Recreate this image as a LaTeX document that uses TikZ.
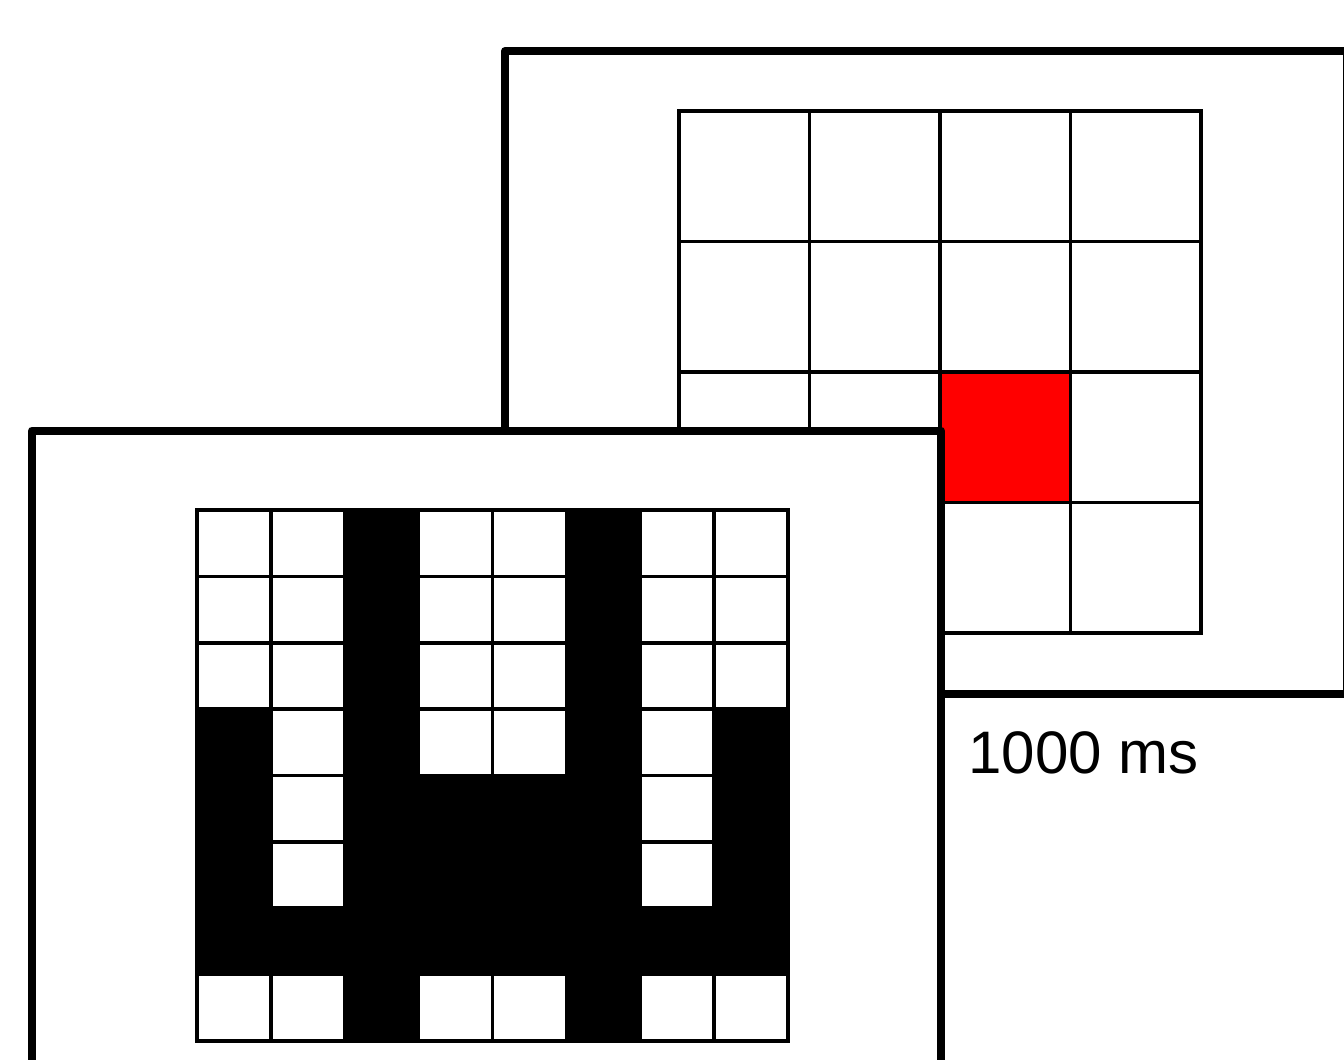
\documentclass[tikz,border=0pt]{standalone}
\usepackage{fontspec}
\setmainfont{Liberation Sans}
\begin{document}
\begin{tikzpicture}[x=0.5pt,y=-0.5pt,
  frame/.style={line width=4pt, line join=round, fill=white, draw=black},
  cell/.style={line width=1.85pt, line cap=rect, draw=black},
  blk/.style={fill=black}]
\useasboundingbox (0,0) rectangle (1344,1060);
\clip (0,0) rectangle (1344,1060);
\fill[white] (0,0) rectangle (1344,1060);
% back screen
\draw[frame] (505,51) rectangle (1347,694);
\fill[red] (940,372) rectangle (1070.5,502.5);
\foreach \i in {0,...,4} {
  \draw[cell] ({679+130.5*\i},111) -- ({679+130.5*\i},633);
  \draw[cell] (679,{111+130.5*\i}) -- (1201,{111+130.5*\i});
}
\node[anchor=base west, inner sep=0, font=\fontsize{30}{36}\selectfont] (label) at (968,773) {1000 ms};
% front screen
\draw[frame] (32,430.5) rectangle (941,1130);
\def\cw{73.875}
\def\ch{66.375}
\def\gx{197}
\def\gy{510}
\fill[blk] ({\gx+2*\cw},{\gy}) rectangle ({\gx+3*\cw},{\gy+8*\ch});
\fill[blk] ({\gx+5*\cw},{\gy}) rectangle ({\gx+6*\cw},{\gy+8*\ch});
\fill[blk] ({\gx},{\gy+6*\ch}) rectangle ({\gx+8*\cw},{\gy+7*\ch});
\fill[blk] ({\gx},{\gy+3*\ch}) rectangle ({\gx+\cw},{\gy+6*\ch});
\fill[blk] ({\gx+7*\cw},{\gy+3*\ch}) rectangle ({\gx+8*\cw},{\gy+6*\ch});
\fill[blk] ({\gx+3*\cw},{\gy+4*\ch}) rectangle ({\gx+5*\cw},{\gy+6*\ch});
\foreach \i in {0,...,8} {
  \draw[cell] ({\gx+\cw*\i},{\gy}) -- ({\gx+\cw*\i},{\gy+8*\ch});
  \draw[cell] ({\gx},{\gy+\ch*\i}) -- ({\gx+8*\cw},{\gy+\ch*\i});
}
\end{tikzpicture}
\end{document}
